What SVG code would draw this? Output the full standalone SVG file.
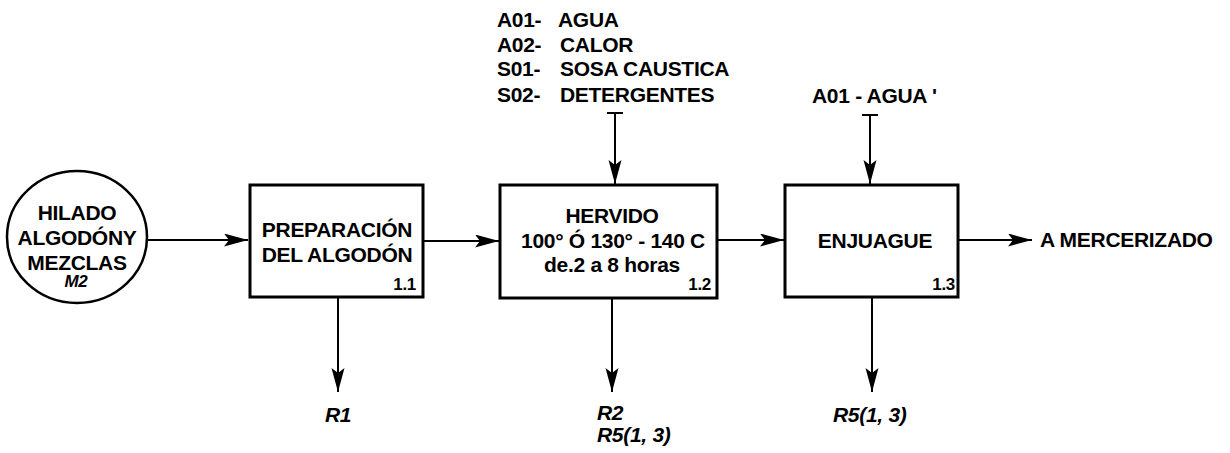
<svg xmlns="http://www.w3.org/2000/svg" width="1230" height="453" viewBox="0 0 1230 453">
<style>
  text { font-family: "Liberation Sans", Arial, sans-serif; font-size: 21px; font-weight: bold; fill: #000; letter-spacing: -0.3px; }
  .c { text-anchor: middle; }
  .r { text-anchor: end; }
  .num { font-size: 17px; }
  .it { font-style: italic; }
  .box { fill: #fff; stroke: #000; stroke-width: 3; }
  .ln { fill: none; stroke: #000; stroke-width: 2; }
</style>
<defs>
  <marker id="ah" markerUnits="userSpaceOnUse" markerWidth="26" markerHeight="14" refX="24" refY="6.5" orient="auto">
    <path d="M0,0 L24,6.5 L0,13 L5,6.5 z" fill="#000"/>
  </marker>
</defs>
<rect width="1230" height="453" fill="#fff"/>

<g id="connectors">
  <line class="ln" x1="147" y1="240" x2="248" y2="240" marker-end="url(#ah)"/>
  <line class="ln" x1="423" y1="241" x2="499" y2="241" marker-end="url(#ah)"/>
  <line class="ln" x1="717" y1="240" x2="784" y2="240" marker-end="url(#ah)"/>
  <line class="ln" x1="958" y1="240" x2="1032" y2="240" marker-end="url(#ah)"/>
  <line class="ln" x1="607" y1="113" x2="623" y2="113"/>
  <line class="ln" x1="615" y1="113" x2="615" y2="184" marker-end="url(#ah)"/>
  <line class="ln" x1="862" y1="115" x2="878" y2="115"/>
  <line class="ln" x1="870" y1="115" x2="870" y2="184" marker-end="url(#ah)"/>
  <line class="ln" x1="338" y1="297" x2="338" y2="392" marker-end="url(#ah)"/>
  <line class="ln" x1="612" y1="298" x2="612" y2="392" marker-end="url(#ah)"/>
  <line class="ln" x1="872" y1="297" x2="872" y2="392" marker-end="url(#ah)"/>
</g>

<g id="M2">
  <ellipse cx="77" cy="237" rx="70" ry="66" fill="#fff" stroke="#000" stroke-width="2.5"/>
  <text class="c" x="77" y="220">HILADO</text>
  <text class="c" x="77" y="245">ALGODÓNY</text>
  <text class="c" x="77" y="270">MEZCLAS</text>
  <text class="c it num" x="76" y="287">M2</text>
</g>

<g id="n1_1">
  <rect class="box" x="250" y="185" width="173" height="112"/>
  <text class="c" x="337" y="237">PREPARACIÓN</text>
  <text class="c" x="337" y="262">DEL ALGODÓN</text>
  <text class="r num" x="416" y="290">1.1</text>
</g>

<g id="n1_2">
  <rect class="box" x="500" y="185" width="217" height="113"/>
  <text class="c" x="612" y="223">HERVIDO</text>
  <text class="c" x="613" y="248">100° Ó 130° - 140 C</text>
  <text class="c" x="612" y="272">de.2 a 8 horas</text>
  <text class="r num" x="711" y="290">1.2</text>
</g>

<g id="n1_3">
  <rect class="box" x="785" y="185" width="173" height="112"/>
  <text class="c" x="875" y="248">ENJUAGUE</text>
  <text class="r num" x="955" y="290">1.3</text>
</g>

<g id="inputs_1_2">
  <text x="497" y="27">A01-</text>
  <text x="558" y="27">AGUA</text>
  <text x="497" y="52">A02-</text>
  <text x="560" y="52">CALOR</text>
  <text x="497" y="76">S01-</text>
  <text x="560" y="76">SOSA CAUSTICA</text>
  <text x="497" y="102">S02-</text>
  <text x="560" y="102">DETERGENTES</text>
</g>

<g id="input_1_3">
  <text x="812" y="103">A01 - AGUA '</text>
</g>

<g id="output">
  <text x="1040" y="247">A MERCERIZADO</text>
</g>

<g id="residues">
  <text class="it" x="325" y="422">R1</text>
  <text class="it" x="597" y="420">R2</text>
  <text class="it" x="597" y="442">R5(1, 3)</text>
  <text class="it" x="833" y="422">R5(1, 3)</text>
</g>
</svg>
